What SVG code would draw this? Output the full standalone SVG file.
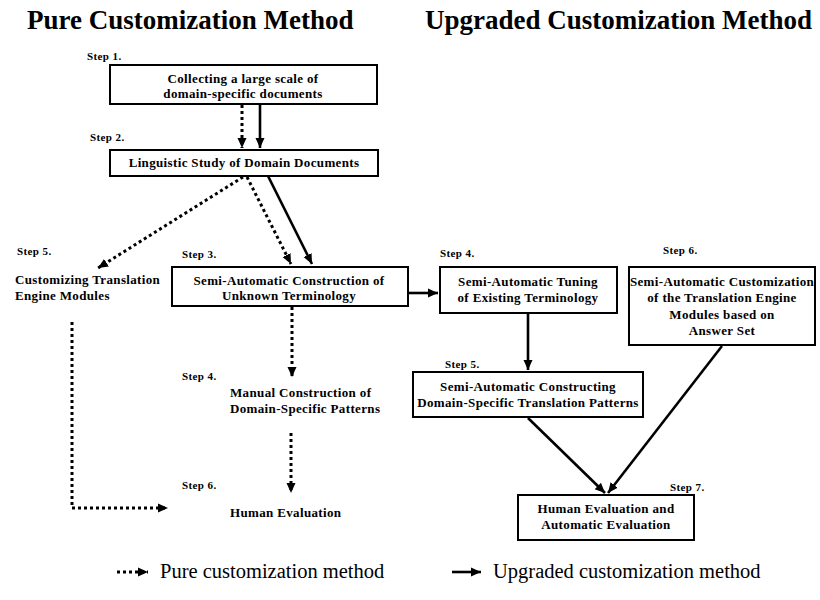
<svg xmlns="http://www.w3.org/2000/svg" width="820" height="600" viewBox="0 0 820 600">
<style>
.title{font-family:"Liberation Serif","Times New Roman",serif;font-weight:bold;font-size:27px;fill:#000}
.t{font-family:"Liberation Serif","Times New Roman",serif;font-weight:bold;font-size:13px;letter-spacing:0.35px;fill:#000}
.c{text-anchor:middle}
.step{font-family:"Liberation Serif","Times New Roman",serif;font-weight:bold;font-size:11px;letter-spacing:0.4px;fill:#000}
.leg{font-family:"Liberation Serif","Times New Roman",serif;font-size:20.5px;fill:#000}
.box{fill:#fff;stroke:#000;stroke-width:2}
.solid{fill:none;stroke:#000;stroke-width:2.6;marker-end:url(#ah)}
.dot{fill:none;stroke:#000;stroke-width:3;stroke-dasharray:3 3;marker-end:url(#ah)}
</style>
<defs>
<marker id="ah" markerUnits="userSpaceOnUse" markerWidth="10" markerHeight="10" refX="10" refY="5" orient="auto">
<path d="M0,0.5 L10,5 L0,9.5 z" fill="#000"/>
</marker>
</defs>
<rect width="820" height="600" fill="#fff"/>
<text class="title" x="27" y="29">Pure Customization Method</text>
<text class="title" x="425" y="29">Upgraded Customization Method</text>

<g id="connectors">
<path class="dot" d="M242,105 L242,148"/>
<path class="solid" d="M260,105 L260,148"/>
<path class="dot" d="M243,177 L98,268"/>
<path class="dot" d="M247,177 L291,264"/>
<path class="solid" d="M268,176 L312,264"/>
<path class="solid" d="M408,293 L438,293"/>
<path class="dot" d="M292,307 L292,377"/>
<path class="dot" d="M291,433 L291,493"/>
<path class="dot" d="M72,322 L72,508 L168,508"/>
<path class="solid" d="M528,314 L528,370"/>
<path class="solid" d="M528,418 L605,493"/>
<path class="solid" d="M722,346 L608,493"/>
</g>

<g id="step1">
<text class="step" x="87" y="60">Step 1.</text>
<rect class="box" x="110" y="65" width="267" height="39"/>
<text class="t c" x="243" y="83">Collecting a large scale of</text>
<text class="t c" x="243" y="98">domain-specific documents</text>
</g>
<g id="step2">
<text class="step" x="90" y="141">Step 2.</text>
<rect class="box" x="110" y="150" width="268" height="26"/>
<text class="t c" x="244" y="167">Linguistic Study of Domain Documents</text>
</g>
<g id="pure-step5">
<text class="step" x="17" y="255">Step 5.</text>
<text class="t" x="15" y="284">Customizing Translation</text>
<text class="t" x="15" y="300">Engine Modules</text>
</g>
<g id="step3">
<text class="step" x="182" y="258">Step 3.</text>
<rect class="box" x="172" y="267" width="236" height="39"/>
<text class="t c" x="289" y="285">Semi-Automatic Construction of</text>
<text class="t c" x="289" y="300">Unknown Terminology</text>
</g>
<g id="upg-step4">
<text class="step" x="440" y="257">Step 4.</text>
<rect class="box" x="440" y="267" width="177" height="46"/>
<text class="t c" x="528" y="286">Semi-Automatic Tuning</text>
<text class="t c" x="528" y="302">of Existing Terminology</text>
</g>
<g id="upg-step6">
<text class="step" x="663" y="254">Step 6.</text>
<rect class="box" x="629" y="267" width="186" height="78"/>
<text class="t c" x="722" y="286">Semi-Automatic Customization</text>
<text class="t c" x="722" y="302">of the Translation Engine</text>
<text class="t c" x="722" y="319">Modules based on</text>
<text class="t c" x="722" y="335">Answer Set</text>
</g>
<g id="upg-step5">
<text class="step" x="445" y="368">Step 5.</text>
<rect class="box" x="413" y="372" width="230" height="45"/>
<text class="t c" x="528" y="391">Semi-Automatic Constructing</text>
<text class="t c" x="528" y="407">Domain-Specific Translation Patterns</text>
</g>
<g id="pure-step4">
<text class="step" x="182" y="380">Step 4.</text>
<text class="t" x="230" y="397">Manual Construction of</text>
<text class="t" x="230" y="413">Domain-Specific Patterns</text>
</g>
<g id="pure-step6">
<text class="step" x="182" y="489">Step 6.</text>
<text class="t" x="230" y="517">Human Evaluation</text>
</g>
<g id="upg-step7">
<text class="step" x="670" y="491">Step 7.</text>
<rect class="box" x="518" y="495" width="176" height="45"/>
<text class="t c" x="606" y="513">Human Evaluation and</text>
<text class="t c" x="606" y="529">Automatic Evaluation</text>
</g>

<g id="legend">
<path class="dot" d="M117,572 L148,572"/>
<text class="leg" x="160" y="578">Pure customization method</text>
<path class="solid" d="M452,572 L481,572"/>
<text class="leg" x="493" y="578">Upgraded customization method</text>
</g>
</svg>
